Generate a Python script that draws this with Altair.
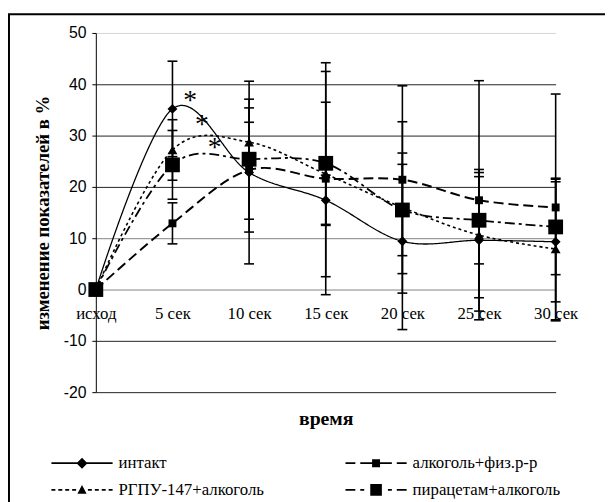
import json
import altair as alt
import pandas as pd

# ---------------- data ----------------
categories = ["исход", "5 сек", "10 сек", "15 сек", "20 сек", "25 сек", "30 сек"]
series_names = ["интакт", "РГПУ-147+алкоголь", "алкоголь+физ.р-р", "пирацетам+алкоголь"]

intact = [0, 35.2, 22.8, 17.4, 9.4, 9.6, 9.3]
intact_err = [0, 9.3, 17.8, 4.9, 17.2, 13.8, 11.7]
rgpu = [0, 27.2, 28.7, 22.5, 16.0, 10.6, 7.9]
rgpu_err = [0, 5.9, 3.9, 20.0, 16.7, 12.2, 13.8]
alc = [0, 12.9, 23.3, 21.6, 21.4, 17.4, 16.0]
alc_err = [0, 4.0, 12.1, 22.6, 18.3, 23.3, 22.1]
pirac = [0, 24.3, 25.4, 24.6, 15.5, 13.5, 12.2]
pirac_err = [0, 6.7, 11.7, 11.9, 8.9, 8.5, 9.3]

star_x = [1.23, 1.385, 1.55]
star_y = [35.2, 30.6, 26.0]

y_ticks = [-20, -10, 0, 10, 20, 30, 40, 50]

# ---------------- tables ----------------
rows = []
for name, vals, errs in zip(series_names, [intact, rgpu, alc, pirac],
                            [intact_err, rgpu_err, alc_err, pirac_err]):
    for i, (v, e) in enumerate(zip(vals, errs)):
        rows.append({"series": name, "idx": i, "v": v, "lo": v - e, "hi": v + e, "e": e})
df = pd.DataFrame(rows)
df_err = df[df["e"] > 0]
stars = pd.DataFrame({"idx": star_x, "v": star_y})


# legend symbol glyphs (unit box [-1,1] = 62 px): filled dash pieces + marker
def bar(a, b, t=0.028):
    return f"M{a},{-t}L{b},{-t}L{b},{t}L{a},{t}Z"


def glyph(pieces, marker):
    return "".join(bar(a, b) for a, b in pieces) + marker


u = 1 / 31.0
sq_small = "M-0.13,-0.13L0.13,-0.13L0.13,0.13L-0.13,0.13Z"
sq_big = "M-0.19,-0.19L0.19,-0.19L0.19,0.19L-0.19,0.19Z"
diamond = "M-0.18,0L0,-0.18L0.18,0L0,0.18Z"
triangle = "M0,-0.16L0.15,0.13L-0.15,0.13Z"

style = {
    "интакт": dict(dash=[1, 0], width=1.3, shape="diamond", size=100,
                   legend=glyph([(-1, 1)], diamond)),
    "алкоголь+физ.р-р": dict(
        dash=[10, 5], width=2.0, shape="square", size=64,
        legend=glyph([(-1, -21 * u), (-16 * u, 16 * u), (21 * u, 1)], sq_small)),
    "РГПУ-147+алкоголь": dict(
        dash=[3, 3], width=1.6, shape="triangle-up", size=100,
        legend=glyph([(-31 * u, -27 * u), (-24 * u, -20 * u), (-17 * u, -13 * u),
                      (-10 * u, -6 * u), (6 * u, 10 * u), (13 * u, 17 * u),
                      (20 * u, 24 * u), (27 * u, 31 * u)], triangle)),
    "пирацетам+алкоголь": dict(
        dash=[10, 4, 3, 4], width=1.8, shape="square", size=225,
        legend=glyph([(-1, -21 * u), (-16 * u, -12 * u), (12 * u, 16 * u), (21 * u, 1)],
                     sq_big)),
}

W, H = 466, 364
SERIF = "'Liberation Serif', 'Times New Roman', Times, serif"
SANS = "'Liberation Sans', Arial, sans-serif"

label_expr = json.dumps(categories, ensure_ascii=False) + "[datum.value]"

x_axis = alt.Axis(
    values=list(range(len(categories))), labelExpr=label_expr, orient="bottom",
    offset=-104, domain=False, ticks=False, grid=False,
    labelFont=SERIF, labelFontSize=17, labelColor="black", labelPadding=16,
    labelFlush=False, labelOverlap=False,
    title="время", titleFont=SERIF, titleFontSize=20, titleFontWeight="bold",
    titleColor="black", titleX=W / 2, titleY=131, titleBaseline="middle",
    titleAlign="center",
)
grid_color = {
    "condition": [
        {"test": "datum.value == 50", "value": "#d4d4d4"},
        {"test": "datum.value == 0 || datum.value == 10", "value": "#808080"},
    ],
    "value": "#222222",
}
y_axis = alt.Axis(
    values=y_ticks, grid=True, gridColor=grid_color, gridWidth=1,
    domain=True, domainColor="black", domainWidth=1,
    ticks=True, tickSize=4, tickColor="black",
    labelExpr="datum.value + ''",
    labelFont=SANS, labelFontSize=16, labelColor="black", labelPadding=6,
    title="изменение показателей в %", titleFont=SERIF, titleFontSize=19,
    titleFontWeight="bold", titleColor="black", titleX=-54, titleY=H / 2,
    titleBaseline="middle", titleAlign="center",
)
x_scale = alt.Scale(domain=[0, 6], nice=False, zero=False)
y_scale = alt.Scale(domain=[-20, 50], nice=False, zero=False)


def X(field="idx"):
    return alt.X(f"{field}:Q", scale=x_scale, axis=x_axis, title="время")


def Y(field="v"):
    return alt.Y(f"{field}:Q", scale=y_scale, axis=y_axis, title="изменение показателей в %")


layers = []

# lines
for name in series_names:
    st = style[name]
    layers.append(alt.Chart(df).transform_filter(alt.datum.series == name).mark_line(
        color="black", strokeWidth=st["width"], strokeDash=st["dash"],
        interpolate="cardinal").encode(x=X(), y=Y()))

# error bars
layers.append(alt.Chart(df_err).mark_rule(color="black", strokeWidth=1.6).encode(
    x=X(), y=Y("lo"), y2="hi:Q"))
for fld in ["lo", "hi"]:
    layers.append(alt.Chart(df_err).mark_tick(
        color="black", orient="horizontal", size=10, thickness=1.6, opacity=1).encode(
        x=X(), y=Y(fld)))

# markers
for name in series_names:
    st = style[name]
    layers.append(alt.Chart(df).transform_filter(alt.datum.series == name).mark_point(
        filled=True, color="black", opacity=1, shape=st["shape"], size=st["size"]).encode(
        x=X(), y=Y()))

# asterisks
layers.append(alt.Chart(stars).mark_text(
    text="*", font=SERIF, fontSize=28, baseline="alphabetic", align="center",
    color="black", fill="black").encode(x=X(), y=Y()))

# legend-only layer (no data rows)
legend = alt.Legend(
    orient="none", legendX=-46, legendY=424, columns=2, direction="vertical", title=None,
    clipHeight=24, rowPadding=3, columnPadding=81, padding=0,
    labelFont=SERIF, labelFontSize=17, labelColor="black", labelOffset=5, labelLimit=0,
    symbolSize=3844, symbolFillColor="black", symbolOpacity=1,
)
layers.append(alt.Chart(df).transform_filter("datum.v > 1000").mark_point(
    filled=True, fill="black", opacity=1, size=3844).encode(
    x=X(), y=Y(),
    shape=alt.Shape("series:N", scale=alt.Scale(
        domain=series_names, range=[style[n]["legend"] for n in series_names]), legend=legend),
))

# outer frame (decoration): right and bottom edges lie outside the picture
one = pd.DataFrame({"a": [0]})
layers.append(alt.Chart(one).mark_rect(fill=None, stroke="black", strokeWidth=2).encode(
    x=alt.value(-88), x2=alt.value(700), y=alt.value(-19), y2=alt.value(700)))

chart = alt.layer(*layers).properties(
    width=W, height=H,
    autosize=alt.AutoSizeParams(type="none"),
    padding={"left": 89, "top": 22, "right": 50, "bottom": 108},
    background="white",
).configure_view(stroke=None).configure_legend(
    labelFont=SERIF, labelFontSize=17, labelColor="black", labelLimit=0,
    symbolFillColor="black",
)

chart.save("out.html", embed_options={"renderer": "svg", "actions": False})
